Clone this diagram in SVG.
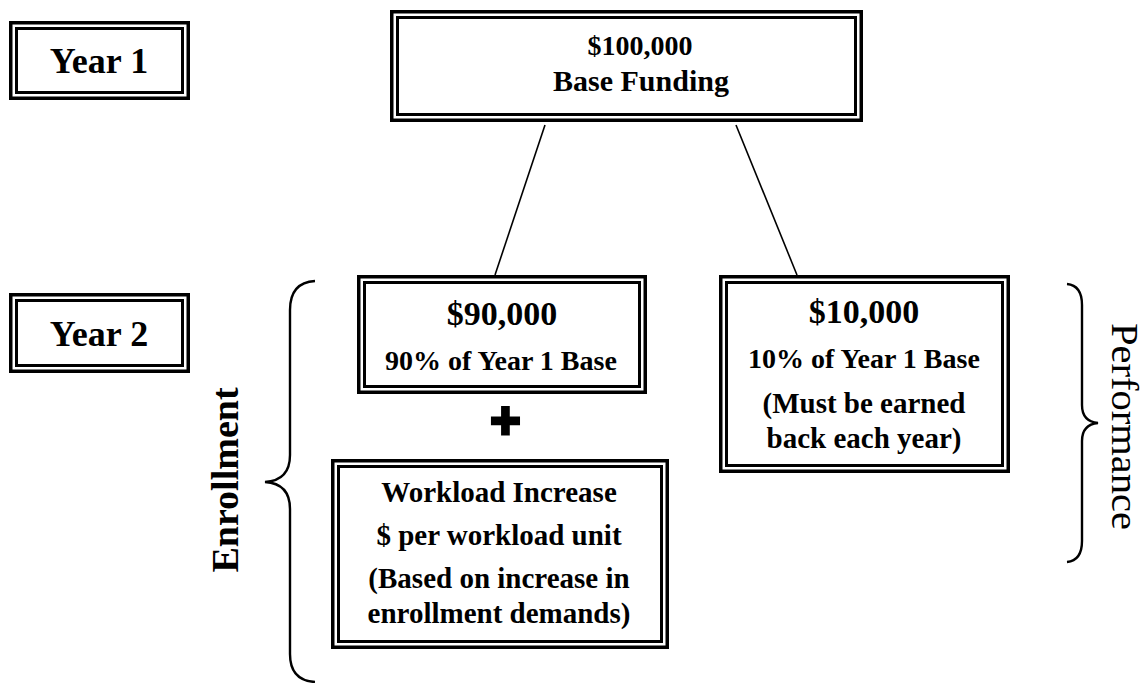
<svg xmlns="http://www.w3.org/2000/svg" width="1147" height="683" viewBox="0 0 1147 683">
<style>
.o{fill:none;stroke:#000;stroke-width:3.5}
.i{fill:none;stroke:#000;stroke-width:3}
text{font-family:"Liberation Serif","Times New Roman",serif;font-weight:bold;fill:#000;text-anchor:middle}
.c{fill:none;stroke:#000;stroke-width:1.6}
.b{fill:none;stroke:#000;stroke-width:2.4}
</style>
<rect width="1147" height="683" fill="#fff"/>
<g id="year1">
<rect class="o" x="10.75" y="22.75" width="177.5" height="75.5"/>
<rect class="i" x="16.5" y="28.5" width="166" height="64"/>
<text x="99" y="73" font-size="36">Year 1</text>
</g>
<g id="year2">
<rect class="o" x="10.75" y="294.75" width="177.5" height="76.5"/>
<rect class="i" x="16.5" y="300.5" width="166" height="65"/>
<text x="99" y="346" font-size="36">Year 2</text>
</g>
<g id="base">
<rect class="o" x="391.75" y="11.75" width="469.5" height="108.5"/>
<rect class="i" x="397.5" y="17.5" width="458" height="97"/>
<text x="640" y="55" font-size="28">$100,000</text>
<text x="641" y="91" font-size="30">Base Funding</text>
</g>
<g id="connectors">
<line class="c" x1="545" y1="125" x2="495" y2="275"/>
<line class="c" x1="736" y1="125" x2="797" y2="275"/>
</g>
<g id="enroll90">
<rect class="o" x="358.75" y="276.75" width="286.5" height="115.5"/>
<rect class="i" x="364.5" y="282.5" width="275" height="104"/>
<text x="502" y="325" font-size="34">$90,000</text>
<text x="501" y="370" font-size="28">90% of Year 1 Base</text>
</g>
<g id="plus">
<text x="505.5" y="438" font-size="52" style="font-family:'Liberation Sans',Arial,sans-serif;stroke:#000;stroke-width:3">+</text>
</g>
<g id="workload">
<rect class="o" x="332.75" y="460.75" width="334.5" height="186.5"/>
<rect class="i" x="338.5" y="466.5" width="323" height="175"/>
<text x="499" y="502" font-size="29">Workload Increase</text>
<text x="499" y="545" font-size="29">$ per workload unit</text>
<text x="499" y="588" font-size="29">(Based on increase in</text>
<text x="499" y="623" font-size="29">enrollment demands)</text>
</g>
<g id="perf10">
<rect class="o" x="720.75" y="276.75" width="287.5" height="194.5"/>
<rect class="i" x="726.5" y="282.5" width="276" height="183"/>
<text x="864" y="323" font-size="34">$10,000</text>
<text x="864" y="368" font-size="28">10% of Year 1 Base</text>
<text x="864" y="413" font-size="29">(Must be earned</text>
<text x="864" y="448" font-size="29">back each year)</text>
</g>
<g id="enrollment-brace">
<path class="b" d="M315,281 C298,282 290,292 290,310 L290,455 C290,472 281,481 265,482 C281,483 290,492 290,509 L290,654 C290,672 298,681 315,682"/>
<text transform="translate(238,480) rotate(-90)" font-size="38">Enrollment</text>
</g>
<g id="performance-brace">
<path class="b" d="M1067,284 C1077,285 1082,292 1082,305 L1082,405 C1082,416 1088,422 1098,423 C1088,424 1082,430 1082,441 L1082,541 C1082,554 1077,561 1067,562"/>
<text transform="translate(1112,426.5) rotate(90)" font-size="38" textLength="207" lengthAdjust="spacingAndGlyphs" style="font-weight:normal">Performance</text>
</g>
</svg>
